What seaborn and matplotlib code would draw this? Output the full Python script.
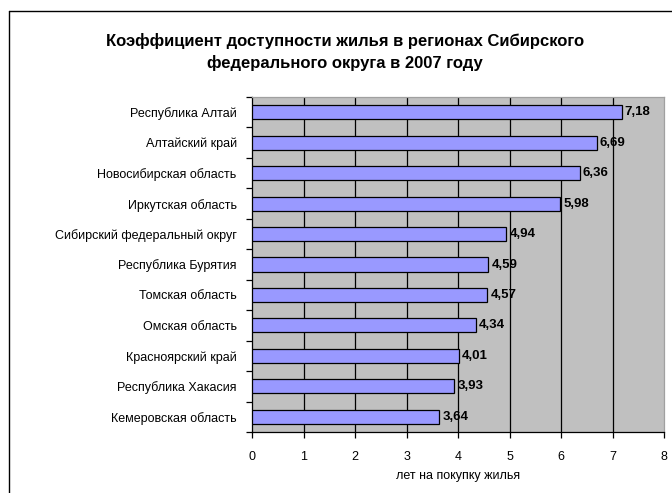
import matplotlib
matplotlib.use("Agg")
import matplotlib.pyplot as plt
import seaborn as sns
import pandas as pd
from matplotlib.lines import Line2D
from matplotlib.ticker import FixedLocator

regions = ["Республика Алтай", "Алтайский край", "Новосибирская область",
           "Иркутская область", "Сибирский федеральный округ", "Республика Бурятия",
           "Томская область", "Омская область", "Красноярский край",
           "Республика Хакасия", "Кемеровская область"]
values = [7.18, 6.69, 6.36, 5.98, 4.94, 4.59, 4.57, 4.34, 4.01, 3.93, 3.64]
xticks = [0, 1, 2, 3, 4, 5, 6, 7, 8]
title = "Коэффициент доступности жилья в регионах Сибирского\nфедерального округа в 2007 году"
xlabel = "лет на покупку жилья"

sns.set_theme(style="white")
plt.rcParams['font.family'] = ['Liberation Sans', 'DejaVu Sans']
plt.rcParams['text.color'] = 'black'
plt.rcParams['axes.labelcolor'] = 'black'
plt.rcParams['xtick.color'] = 'black'
plt.rcParams['ytick.color'] = 'black'

df = pd.DataFrame({"region": regions, "value": values})

fig = plt.figure(figsize=(6.72, 4.93), dpi=100)
fig.patch.set_facecolor("white")
ax = fig.add_axes([252/672, 61/493, 412/672, 335/493])
ax.set_facecolor("#C0C0C0")

sns.barplot(data=df, x="value", y="region", orient="h", color="#9999FF",
            saturation=1, edgecolor="black", linewidth=0.9, width=0.46, ax=ax, zorder=3)

ax.set_xlim(0, 8)
ax.set_ylim(len(regions) - 0.5, -0.5)
ax.set_xticks(xticks)
ax.set_xticklabels([str(t) for t in xticks], fontsize=9, color="black")
ax.grid(False)
for t in xticks[1:-1]:
    ax.axvline(t, color="black", linewidth=0.9, zorder=1)

ax.set_yticks(range(len(regions)))
ax.set_yticklabels(regions, fontsize=9, color="black")
ax.tick_params(axis="y", which="major", length=0, pad=11)
ax.yaxis.set_minor_locator(FixedLocator([i - 0.5 for i in range(len(regions) + 1)]))
ax.tick_params(axis="y", which="minor", length=4, direction="out", color="black", width=0.9, left=True)
ax.tick_params(axis="x", which="major", length=4, direction="out", color="black", width=0.9, bottom=True, pad=10)

ax.set_xlabel(xlabel, fontsize=9, labelpad=5, color="black")
ax.set_ylabel("")

for s in ["left", "bottom"]:
    ax.spines[s].set_color("black")
    ax.spines[s].set_linewidth(0.9)
for s in ["top", "right"]:
    ax.spines[s].set_color("#A0A0A0")
    ax.spines[s].set_linewidth(0.9)

for i, v in enumerate(values):
    ax.text(v + 0.06, i, f"{v:.2f}".replace(".", ","), va="center", ha="left",
            fontsize=9.5, fontweight="bold", color="black", zorder=4)

fig.text(345/672, 1 - 52/493, title, ha="center", va="center", fontsize=12,
         fontweight="bold", linespacing=1.5, color="black")

# chart area border (cropped)
fig.add_artist(Line2D([8.5/672, 8.5/672], [0, 1 - 11/493], color="black", linewidth=1.0,
                      transform=fig.transFigure))
fig.add_artist(Line2D([8.5/672, 1], [1 - 11/493, 1 - 11/493], color="black", linewidth=1.0,
                      transform=fig.transFigure))

fig.savefig("out.png", dpi=100)
